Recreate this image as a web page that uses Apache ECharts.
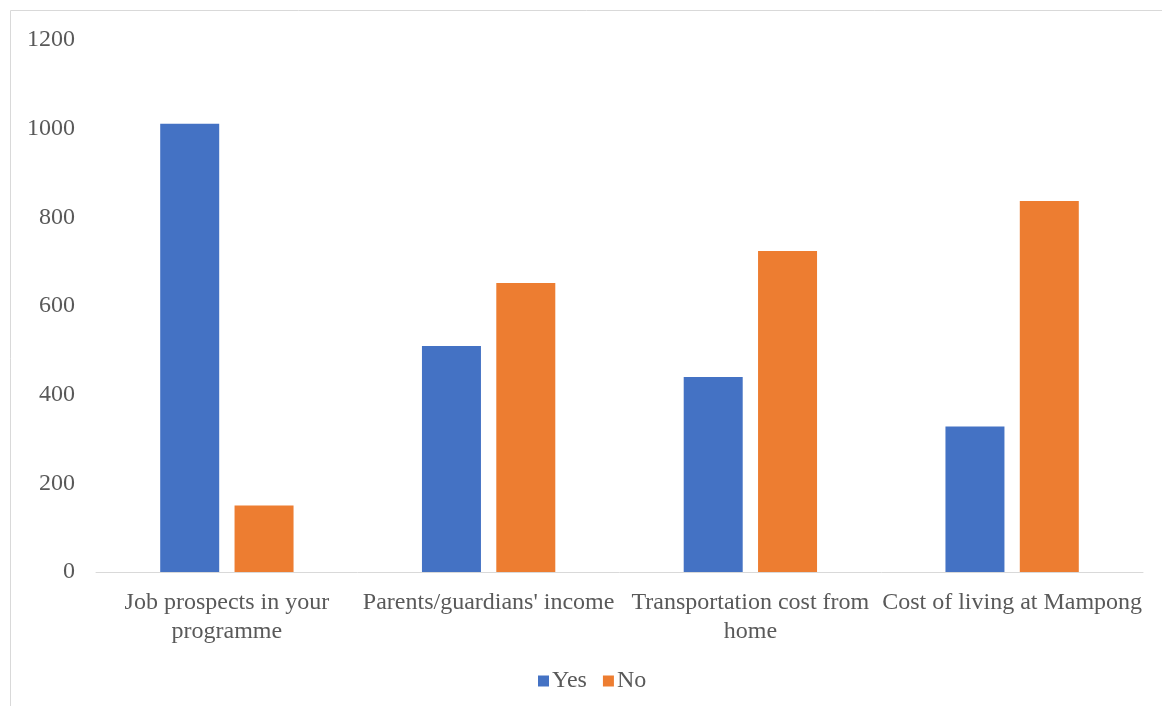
<!DOCTYPE html>
<html>
<head>
<meta charset="utf-8">
<style>
  html, body { margin: 0; padding: 0; background: #ffffff; }
  #chart { width: 1162px; height: 706px; }
</style>
<script src="https://cdn.jsdelivr.net/npm/echarts@6/dist/echarts.min.js"></script>
</head>
<body>
<div id="chart"></div>
<script>
// Survey responses per factor
const categories = [
  "Job prospects in your\nprogramme",
  "Parents/guardians' income",
  "Transportation cost from\nhome",
  "Cost of living at Mampong"
];
const yesValues = [1011, 510, 440, 328];
const noValues = [150, 652, 724, 837];
const yTicks = [0, 200, 400, 600, 800, 1000, 1200];

const fontFamily = '"Liberation Serif", "Times New Roman", serif';
const textColor = '#595959';

const chart = echarts.init(document.getElementById('chart'));
chart.setOption({
  animation: false,
  textStyle: { fontFamily: fontFamily },
  graphic: [{
    type: 'rect',
    shape: { x: 10.5, y: 10.5, width: 1160, height: 720 },
    style: { fill: 'none', stroke: '#d9d9d9', lineWidth: 1 },
    silent: true,
    z: -1
  }],
  grid: { left: 96, right: 19, top: 40, bottom: 134 },
  legend: {
    top: 664,
    left: 533,
    itemWidth: 11,
    itemHeight: 11,
    itemGap: 16,
    icon: 'rect',
    textStyle: { color: textColor, fontSize: 24, fontFamily: fontFamily, padding: [0, 0, 0, -2] },
    data: ['Yes', 'No']
  },
  xAxis: {
    type: 'category',
    data: categories,
    axisLine: { lineStyle: { color: '#d9d9d9', width: 1 } },
    axisTick: { show: false },
    axisLabel: {
      color: textColor,
      fontSize: 24,
      fontFamily: fontFamily,
      lineHeight: 29,
      margin: 16,
      interval: 0
    }
  },
  yAxis: {
    type: 'value',
    min: yTicks[0],
    max: yTicks[yTicks.length - 1],
    interval: 200,
    axisLine: { show: false },
    axisTick: { show: false },
    splitLine: { show: false },
    axisLabel: {
      color: textColor,
      fontSize: 24,
      fontFamily: fontFamily,
      margin: 21,
      formatter: function (v) { return String(v); }
    }
  },
  series: [
    {
      name: 'Yes',
      type: 'bar',
      data: yesValues,
      barWidth: 59,
      barGap: '26%',
      itemStyle: { color: '#4472c4' }
    },
    {
      name: 'No',
      type: 'bar',
      data: noValues,
      barWidth: 59,
      itemStyle: { color: '#ed7d31' }
    }
  ]
});
</script>
</body>
</html>
